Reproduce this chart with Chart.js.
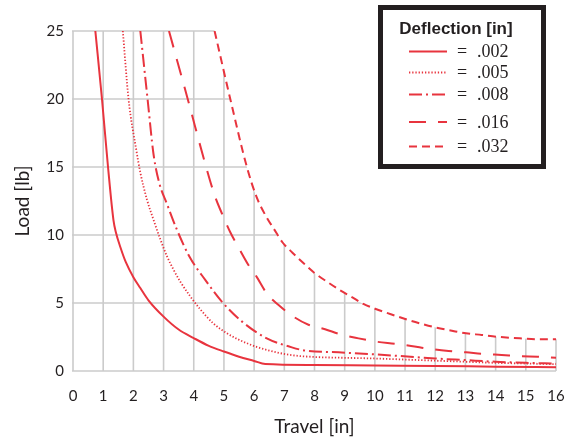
<!DOCTYPE html>
<html>
<head>
<meta charset="utf-8">
<script src="https://cdn.jsdelivr.net/npm/chart.js@4.4.1/dist/chart.umd.min.js"></script>
<style>
  html, body { margin: 0; padding: 0; background: #fff; }
  #wrap { width: 567px; height: 439px; }
</style>
</head>
<body>
<div id="wrap"><canvas id="chart"></canvas></div>
<script>
// deflection values (legend labels)
const deflections = ['.002', '.005', '.008', '.016', '.032'];

// travel [in] / load [lb]
const travel002 = [0.74, 0.96, 1.16, 1.34, 1.42, 1.57, 1.75, 2, 2.23, 2.5, 3, 3.5, 4, 4.5, 5, 5.5, 6, 6.37, 8, 10, 12, 14, 16];
const load002   = [25, 20, 15, 11.1, 10.2, 9.1, 8.0, 6.9, 6.1, 5.2, 4.0, 3.05, 2.42, 1.85, 1.43, 1.05, 0.74, 0.51, 0.44, 0.4, 0.37, 0.32, 0.28];

const travel005 = [1.65, 1.84, 2.1, 2.23, 2.45, 2.67, 2.89, 3.11, 3.33, 3.56, 3.88, 4.21, 4.65, 5.1, 5.76, 6.42, 7.2, 8, 9, 10, 11, 12, 13, 14, 15, 16];
const load005   = [25, 20, 16.2, 14.6, 12.6, 11.1, 9.7, 8.45, 7.45, 6.55, 5.5, 4.55, 3.5, 2.77, 2.04, 1.55, 1.18, 1.03, 0.97, 0.92, 0.84, 0.76, 0.68, 0.6, 0.55, 0.5];

const travel008 = [2.23, 2.47, 2.67, 2.86, 3.11, 3.44, 3.86, 4.38, 4.93, 5.6, 6.42, 7.25, 7.7, 8.8, 9.8, 10.84, 12, 13, 14, 15, 16];
const load008   = [25, 20, 15.9, 13.8, 12.3, 10.4, 8.4, 6.7, 5.1, 3.63, 2.4, 1.74, 1.5, 1.37, 1.25, 1.1, 0.92, 0.8, 0.68, 0.6, 0.54];

const travel016 = [3.18, 3.8, 4.41, 4.71, 4.93, 5.21, 5.48, 5.81, 6.09, 6.42, 6.81, 7.3, 7.8, 8.35, 8.85, 9.46, 10.07, 10.67, 11.2, 11.83, 12.44, 13.02, 13.6, 14.2, 14.79, 15.4, 16];
const load016   = [25, 20, 15, 12.8, 11.6, 10.2, 9.1, 7.8, 6.9, 5.7, 4.85, 4.0, 3.4, 3.07, 2.7, 2.4, 2.15, 2.0, 1.84, 1.62, 1.47, 1.37, 1.25, 1.18, 1.1, 1.05, 0.98];

const travel032 = [4.69, 5.21, 5.76, 6.08, 6.4, 6.64, 6.95, 7.27, 7.64, 7.99, 8.41, 8.83, 9.22, 9.62, 10.12, 10.6, 11.11, 11.56, 12.05, 12.55, 13.02, 13.54, 14.04, 14.8, 15.5, 16];
const load032   = [25, 20, 15, 12.8, 11.35, 10.5, 9.43, 8.7, 7.92, 7.23, 6.57, 5.96, 5.46, 4.93, 4.49, 4.12, 3.75, 3.46, 3.18, 2.96, 2.77, 2.65, 2.52, 2.4, 2.33, 2.33];

const travels = [travel002, travel005, travel008, travel016, travel032];
const loads = [load002, load005, load008, load016, load032];
const dashes = [[], [1.3, 1.9], [13, 4, 2, 4], [17, 12], [8, 5]];

const red = '#e8343e';
const ink = '#231f20';

const datasets = deflections.map((d, i) => ({
    label: d,
    data: travels[i].map((x, j) => ({x: x, y: loads[i][j]})),
    borderColor: red,
    borderWidth: i == 1 ? 1.8 : 2,
    borderDash: dashes[i],
    pointRadius: 0,
    fill: false,
    cubicInterpolationMode: 'monotone'
}));

// grid lines only under the outermost (.032) curve
const clippedGrid = {
    id: 'clippedGrid',
    beforeDatasetsDraw(chart) {
        const ctx = chart.ctx;
        const a = chart.chartArea;
        const xs = chart.scales.x, ys = chart.scales.y;
        const pts = chart.getDatasetMeta(4).data;
        ctx.save();
        ctx.beginPath();
        ctx.moveTo(a.left - 3, a.top - 3);
        ctx.lineTo(pts[0].x, a.top - 3);
        ctx.lineTo(pts[0].x, pts[0].y);
        for (let i = 1; i < pts.length; i++) {
            const p = pts[i - 1], c = pts[i];
            ctx.bezierCurveTo(p.cp2x, p.cp2y, c.cp1x, c.cp1y, c.x, c.y);
        }
        ctx.lineTo(a.right + 3, pts[pts.length - 1].y);
        ctx.lineTo(a.right + 3, a.bottom + 3);
        ctx.lineTo(a.left - 3, a.bottom + 3);
        ctx.closePath();
        ctx.clip();
        ctx.strokeStyle = '#cbcbcb';
        ctx.lineWidth = 1.6;
        xs.ticks.forEach(t => {
            const px = xs.getPixelForValue(t.value);
            ctx.beginPath();
            ctx.moveTo(px, a.top);
            ctx.lineTo(px, a.bottom);
            ctx.stroke();
        });
        ys.ticks.forEach(t => {
            const py = ys.getPixelForValue(t.value);
            ctx.beginPath();
            ctx.moveTo(a.left - 1, py);
            ctx.lineTo(a.right, py);
            ctx.stroke();
        });
        ctx.restore();
    }
};

// boxed legend in the top right
const boxLegend = {
    id: 'boxLegend',
    afterDraw(chart) {
        const ctx = chart.ctx;
        ctx.save();
        ctx.fillStyle = '#fff';
        ctx.fillRect(378, 5, 168, 164);
        ctx.strokeStyle = ink;
        ctx.lineWidth = 5;
        ctx.strokeRect(380.5, 7.5, 163, 159);
        ctx.fillStyle = ink;
        ctx.font = 'bold 17px "Liberation Sans", Arial, sans-serif';
        ctx.textAlign = 'center';
        ctx.textBaseline = 'middle';
        ctx.fillText('Deflection [in]', 456, 29);
        const rows = [51.5, 72.5, 94.5, 122, 146.5];
        chart.data.datasets.forEach((ds, i) => {
            const y = rows[i];
            ctx.strokeStyle = ds.borderColor;
            ctx.lineWidth = ds.borderWidth;
            ctx.setLineDash(ds.borderDash);
            ctx.beginPath();
            ctx.moveTo(409, y);
            ctx.lineTo(447, y);
            ctx.stroke();
            ctx.setLineDash([]);
            ctx.fillStyle = ink;
            ctx.font = '18px "Liberation Serif", "Times New Roman", serif';
            ctx.textAlign = 'center';
            ctx.fillText('=', 462, y + 1);
            ctx.textAlign = 'left';
            ctx.fillText(ds.label, 477, y + 1);
        });
        ctx.restore();
    }
};

Chart.defaults.font.family = 'Lato, "Open Sans", sans-serif';
Chart.defaults.color = ink;

new Chart(document.getElementById('chart').getContext('2d'), {
    type: 'line',
    data: { datasets: datasets },
    options: {
        responsive: true,
        maintainAspectRatio: false,
        animation: false,
        layout: { padding: { top: 31, right: 11, left: 0, bottom: 0 } },
        plugins: {
            legend: { display: false },
            tooltip: { enabled: false }
        },
        scales: {
            x: {
                type: 'linear',
                min: 0, max: 16,
                grid: { display: false, drawTicks: false },
                border: { display: false },
                ticks: { stepSize: 1, padding: 16, font: { size: 15 }, maxRotation: 0, autoSkip: false },
                title: { display: true, text: 'Travel [in]', font: { size: 19 }, padding: { top: 0, bottom: 1 } },
                afterFit(s) { s.height = 68; s.paddingRight = 8; }
            },
            y: {
                min: 0, max: 25,
                grid: { display: false, drawTicks: false },
                border: { display: false },
                ticks: { stepSize: 5, padding: 9, font: { size: 15 } },
                title: { display: true, text: 'Load [lb]', font: { size: 19 }, padding: { top: 11, bottom: 0 } },
                afterFit(s) { s.width = 73; }
            }
        }
    },
    plugins: [clippedGrid, boxLegend]
});
</script>
</body>
</html>
